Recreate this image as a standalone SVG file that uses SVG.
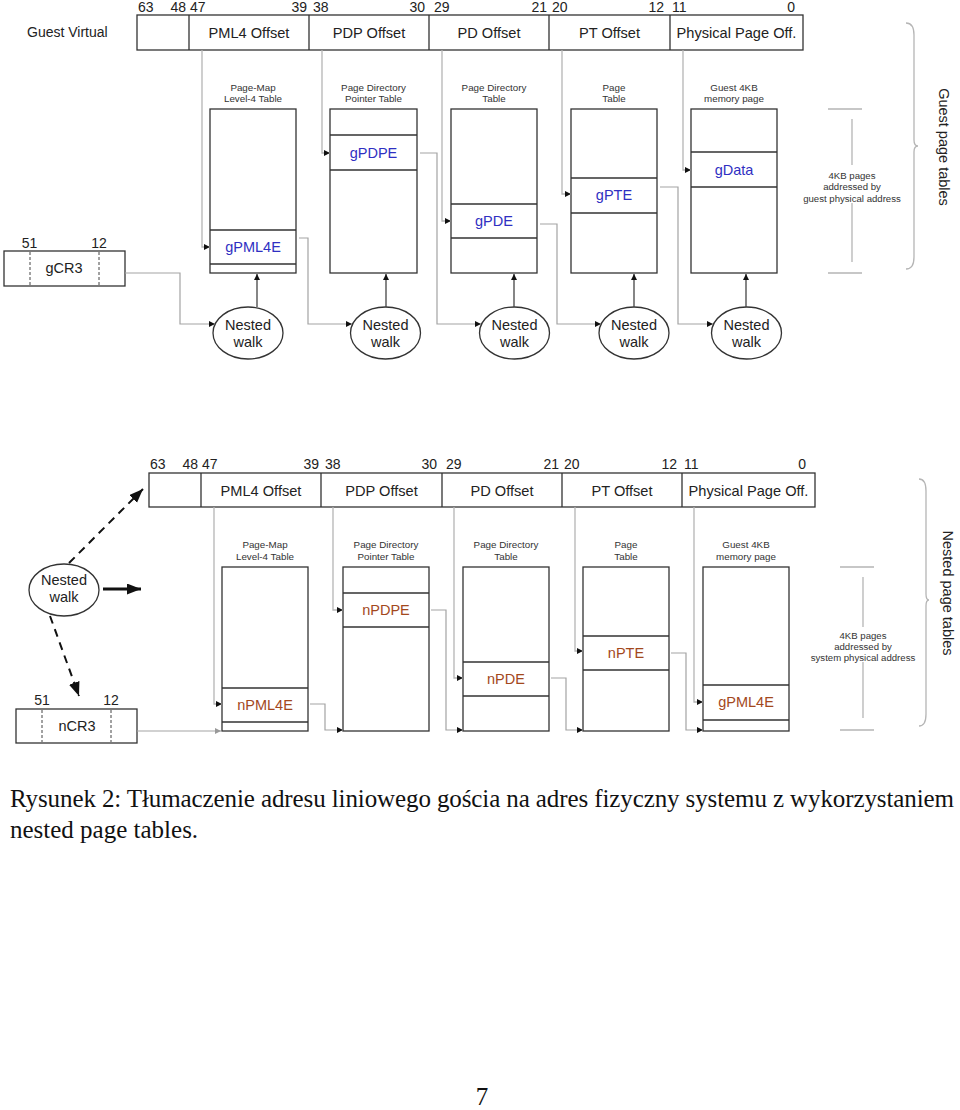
<svg xmlns="http://www.w3.org/2000/svg" width="960" height="1110" viewBox="0 0 960 1110">
<defs>
<style>
.bg{fill:#fff}
.box{fill:#fff;stroke:#333;stroke-width:1.3}
.ln{stroke:#333;stroke-width:1.3;fill:none}
.dash{stroke:#444;stroke-width:1;stroke-dasharray:3,2;fill:none}
.conn{stroke:#a3a3a3;stroke-width:1.2;fill:none}
.up{stroke:#444;stroke-width:1.3;fill:none}
.gr{stroke:#b5b5b5;stroke-width:1.3;fill:none}
.t{font-family:"Liberation Sans",Arial,sans-serif;fill:#222}
.bit{font-size:14px}
.seg{font-size:14.6px;text-anchor:middle}
.ttl{font-size:9.8px;text-anchor:middle;fill:#333}
.ent{font-size:14.5px;text-anchor:middle}
.blue{fill:#2f2fc2}
.brown{fill:#a3481d}
.nw{font-size:14.5px;text-anchor:middle}
.sm{font-size:9.6px;text-anchor:middle;fill:#333}
.side{font-size:14.5px;text-anchor:middle}
.cap{font-family:"Liberation Serif","Times New Roman",serif;font-size:25px;fill:#111}
.bigdash{stroke:#111;stroke-width:2;stroke-dasharray:8,6;fill:none}
.bigsol{stroke:#111;stroke-width:3;fill:none}
</style>
<marker id="ah" markerUnits="userSpaceOnUse" markerWidth="7" markerHeight="7" refX="6" refY="3" orient="auto"><path d="M0,0 L6,3 L0,6 z" fill="#111"/></marker>
<marker id="ahg" markerUnits="userSpaceOnUse" markerWidth="7" markerHeight="7" refX="6" refY="3" orient="auto"><path d="M0,0 L6,3 L0,6 z" fill="#999"/></marker>
<marker id="big" markerUnits="userSpaceOnUse" markerWidth="16" markerHeight="12" refX="14" refY="5.5" orient="auto"><path d="M0,0 L14,5.5 L0,11 z" fill="#111"/></marker>
</defs>
<rect class="bg" x="0" y="0" width="960" height="1110"/>

<!-- ===== TOP DIAGRAM ===== -->
<g id="guest-virtual-label"><text class="t" x="27" y="37" font-size="14px">Guest Virtual</text></g>
<g id="top-bar">
<rect class="box" x="137" y="15" width="666" height="35"/>
<path class="ln" d="M189,15V50M309,15V50M429,15V50M549,15V50M670,15V50"/>
<text class="t seg" x="249" y="37.5">PML4 Offset</text>
<text class="t seg" x="369" y="37.5">PDP Offset</text>
<text class="t seg" x="489" y="37.5">PD Offset</text>
<text class="t seg" x="609.5" y="37.5">PT Offset</text>
<text class="t seg" x="736.5" y="37.5">Physical Page Off.</text>
<text class="t bit" x="138" y="12">63</text>
<text class="t bit" x="186" y="12" text-anchor="end">48</text>
<text class="t bit" x="190" y="12">47</text>
<text class="t bit" x="307" y="12" text-anchor="end">39</text>
<text class="t bit" x="313" y="12">38</text>
<text class="t bit" x="425" y="12" text-anchor="end">30</text>
<text class="t bit" x="434" y="12">29</text>
<text class="t bit" x="547" y="12" text-anchor="end">21</text>
<text class="t bit" x="552" y="12">20</text>
<text class="t bit" x="664" y="12" text-anchor="end">12</text>
<text class="t bit" x="672" y="12">11</text>
<text class="t bit" x="795" y="12" text-anchor="end">0</text>
</g>

<g id="gpml4-table">
<text class="t ttl" x="253" y="90.5">Page-Map</text>
<text class="t ttl" x="253" y="101.5">Level-4 Table</text>
<rect class="box" x="210" y="109" width="86" height="164"/>
<path class="ln" d="M210,230H296M210,264H296"/>
<text class="t ent blue" x="253" y="252">gPML4E</text>
</g>
<g id="gpdp-table">
<text class="t ttl" x="373.5" y="90.5">Page Directory</text>
<text class="t ttl" x="373.5" y="101.5">Pointer Table</text>
<rect class="box" x="330" y="109" width="87" height="164"/>
<path class="ln" d="M330,135H417M330,170H417"/>
<text class="t ent blue" x="373.5" y="158">gPDPE</text>
</g>
<g id="gpd-table">
<text class="t ttl" x="494" y="90.5">Page Directory</text>
<text class="t ttl" x="494" y="101.5">Table</text>
<rect class="box" x="451" y="109" width="86" height="164"/>
<path class="ln" d="M451,204H537M451,238H537"/>
<text class="t ent blue" x="494" y="226">gPDE</text>
</g>
<g id="gpt-table">
<text class="t ttl" x="614" y="90.5">Page</text>
<text class="t ttl" x="614" y="101.5">Table</text>
<rect class="box" x="571" y="109" width="86" height="164"/>
<path class="ln" d="M571,178H657M571,213H657"/>
<text class="t ent blue" x="614" y="200">gPTE</text>
</g>
<g id="gdata-page">
<text class="t ttl" x="734" y="90.5">Guest 4KB</text>
<text class="t ttl" x="734" y="101.5">memory page</text>
<rect class="box" x="691" y="109" width="86" height="164"/>
<path class="ln" d="M691,152H777M691,187H777"/>
<text class="t ent blue" x="734" y="175">gData</text>
</g>

<g id="gcr3">
<text class="t bit" x="29.5" y="248" text-anchor="middle">51</text>
<text class="t bit" x="99" y="248" text-anchor="middle">12</text>
<rect class="box" x="4" y="251" width="121" height="35"/>
<path class="dash" d="M30,252V285M99,252V285"/>
<text class="t" x="64" y="273" font-size="14.5px" text-anchor="middle">gCR3</text>
</g>

<g id="nested-walk-1"><ellipse class="box" cx="248" cy="333" rx="35" ry="26"/><text class="t nw" x="248" y="330">Nested</text><text class="t nw" x="248" y="347">walk</text></g>
<g id="nested-walk-2"><ellipse class="box" cx="385.5" cy="333" rx="35" ry="26"/><text class="t nw" x="385.5" y="330">Nested</text><text class="t nw" x="385.5" y="347">walk</text></g>
<g id="nested-walk-3"><ellipse class="box" cx="514.5" cy="333" rx="35" ry="26"/><text class="t nw" x="514.5" y="330">Nested</text><text class="t nw" x="514.5" y="347">walk</text></g>
<g id="nested-walk-4"><ellipse class="box" cx="634" cy="333" rx="35" ry="26"/><text class="t nw" x="634" y="330">Nested</text><text class="t nw" x="634" y="347">walk</text></g>
<g id="nested-walk-5"><ellipse class="box" cx="746.5" cy="333" rx="35" ry="26"/><text class="t nw" x="746.5" y="330">Nested</text><text class="t nw" x="746.5" y="347">walk</text></g>

<g id="guest-range">
<path class="gr" d="M828,109H862M828,273H862M852,119V165M852,203V262"/>
<text class="t sm" x="852" y="178.5">4KB pages</text>
<text class="t sm" x="852" y="190">addressed by</text>
<text class="t sm" x="852" y="201.5">guest physical address</text>
</g>
<g id="guest-brace">
<path class="gr" d="M906,23Q914,23 914,35V140Q914,146 918,146Q914,146 914,152V257Q914,269 906,269"/>
<text class="t side" transform="translate(939,147) rotate(90)" x="0" y="0">Guest page tables</text>
</g>

<!-- ===== BOTTOM DIAGRAM ===== -->
<g id="bottom-bar">
<rect class="box" x="149" y="473" width="666" height="34"/>
<path class="ln" d="M201,473V507M321,473V507M442,473V507M562,473V507M682,473V507"/>
<text class="t seg" x="261" y="495.5">PML4 Offset</text>
<text class="t seg" x="381.5" y="495.5">PDP Offset</text>
<text class="t seg" x="502" y="495.5">PD Offset</text>
<text class="t seg" x="622" y="495.5">PT Offset</text>
<text class="t seg" x="748.5" y="495.5">Physical Page Off.</text>
<text class="t bit" x="150" y="469">63</text>
<text class="t bit" x="198" y="469" text-anchor="end">48</text>
<text class="t bit" x="202" y="469">47</text>
<text class="t bit" x="319" y="469" text-anchor="end">39</text>
<text class="t bit" x="325" y="469">38</text>
<text class="t bit" x="437" y="469" text-anchor="end">30</text>
<text class="t bit" x="446" y="469">29</text>
<text class="t bit" x="559" y="469" text-anchor="end">21</text>
<text class="t bit" x="564" y="469">20</text>
<text class="t bit" x="677" y="469" text-anchor="end">12</text>
<text class="t bit" x="684" y="469">11</text>
<text class="t bit" x="806" y="469" text-anchor="end">0</text>
</g>

<g id="npml4-table">
<text class="t ttl" x="265" y="548">Page-Map</text>
<text class="t ttl" x="265" y="559.5">Level-4 Table</text>
<rect class="box" x="222" y="567" width="86" height="164"/>
<path class="ln" d="M222,688H308M222,722H308"/>
<text class="t ent brown" x="265" y="710">nPML4E</text>
</g>
<g id="npdp-table">
<text class="t ttl" x="386" y="548">Page Directory</text>
<text class="t ttl" x="386" y="559.5">Pointer Table</text>
<rect class="box" x="343" y="567" width="86" height="164"/>
<path class="ln" d="M343,593H429M343,627H429"/>
<text class="t ent brown" x="386" y="615">nPDPE</text>
</g>
<g id="npd-table">
<text class="t ttl" x="506" y="548">Page Directory</text>
<text class="t ttl" x="506" y="559.5">Table</text>
<rect class="box" x="463" y="567" width="86" height="164"/>
<path class="ln" d="M463,662H549M463,696H549"/>
<text class="t ent brown" x="506" y="684">nPDE</text>
</g>
<g id="npt-table">
<text class="t ttl" x="626" y="548">Page</text>
<text class="t ttl" x="626" y="559.5">Table</text>
<rect class="box" x="583" y="567" width="86" height="164"/>
<path class="ln" d="M583,636H669M583,670H669"/>
<text class="t ent brown" x="626" y="658">nPTE</text>
</g>
<g id="guest-page-bottom">
<text class="t ttl" x="746" y="548">Guest 4KB</text>
<text class="t ttl" x="746" y="559.5">memory page</text>
<rect class="box" x="703" y="567" width="86" height="164"/>
<path class="ln" d="M703,685H789M703,720H789"/>
<text class="t ent brown" x="746" y="707">gPML4E</text>
</g>

<g id="ncr3">
<text class="t bit" x="42" y="705" text-anchor="middle">51</text>
<text class="t bit" x="111" y="705" text-anchor="middle">12</text>
<rect class="box" x="16" y="709" width="121" height="34"/>
<path class="dash" d="M42,710V742M111,710V742"/>
<text class="t" x="77" y="731" font-size="14.5px" text-anchor="middle">nCR3</text>
</g>

<g id="nested-walk-main"><ellipse class="box" cx="64" cy="590" rx="35" ry="26"/><text class="t nw" x="64" y="585">Nested</text><text class="t nw" x="64" y="602">walk</text></g>

<g id="system-range">
<path class="gr" d="M840,567H874M840,730H874M863,577V627M863,662V718"/>
<text class="t sm" x="863" y="639">4KB pages</text>
<text class="t sm" x="863" y="650">addressed by</text>
<text class="t sm" x="863" y="661">system physical address</text>
</g>
<g id="nested-brace">
<path class="gr" d="M919,479Q926,479 926,491V594Q926,600 929,600Q926,600 926,606V714Q926,726 919,726"/>
<text class="t side" transform="translate(943,593) rotate(90)" x="0" y="0">Nested page tables</text>
</g>

<!-- ===== CONNECTORS ===== -->
<g id="connectors">
<path class="gr" marker-end="url(#ah)" d="M202,50V247H210"/>
<path class="gr" marker-end="url(#ah)" d="M322,50V153H330"/>
<path class="gr" marker-end="url(#ah)" d="M442,50V221H451"/>
<path class="gr" marker-end="url(#ah)" d="M562,50V194H571"/>
<path class="gr" marker-end="url(#ah)" d="M683,50V170H691"/>
<path class="conn" marker-end="url(#ah)" d="M125,273H180V324H215"/>
<path class="conn" marker-end="url(#ah)" d="M299,238H308V324H352"/>
<path class="conn" marker-end="url(#ah)" d="M420,153H437V324H481"/>
<path class="conn" marker-end="url(#ah)" d="M540,224H557V324H601"/>
<path class="conn" marker-end="url(#ah)" d="M660,187H678V324H713"/>
<path class="up" marker-end="url(#ah)" d="M257,307V274"/>
<path class="up" marker-end="url(#ah)" d="M386,307V274"/>
<path class="up" marker-end="url(#ah)" d="M514,307V274"/>
<path class="up" marker-end="url(#ah)" d="M634,307V274"/>
<path class="up" marker-end="url(#ah)" d="M746,307V274"/>
<path class="gr" marker-end="url(#ah)" d="M214,507V704H222"/>
<path class="gr" marker-end="url(#ah)" d="M333,507V610H343"/>
<path class="gr" marker-end="url(#ah)" d="M454,507V678H463"/>
<path class="gr" marker-end="url(#ah)" d="M575,507V651H583"/>
<path class="gr" marker-end="url(#ah)" d="M694,507V702H703"/>
<path class="conn" marker-end="url(#ahg)" d="M137,731H221"/>
<path class="conn" marker-end="url(#ah)" d="M310,704H325V730H343"/>
<path class="conn" marker-end="url(#ah)" d="M431,610H446V730H463"/>
<path class="conn" marker-end="url(#ah)" d="M551,678H566V730H583"/>
<path class="conn" marker-end="url(#ah)" d="M671,653H686V730H703"/>
<path class="bigdash" marker-end="url(#big)" d="M69,563L143,489"/>
<path class="bigsol" marker-end="url(#big)" d="M103,589H141"/>
<path class="bigdash" marker-end="url(#big)" d="M50,616L79,696"/>
</g>

<g id="caption">
<text class="cap" x="10" y="807" textLength="944" lengthAdjust="spacing">Rysunek 2: Tłumaczenie adresu liniowego gościa na adres fizyczny systemu z wykorzystaniem</text>
<text class="cap" x="10" y="838">nested page tables.</text>
</g>
<g id="page-number"><text class="cap" x="482" y="1105" text-anchor="middle">7</text></g>
</svg>
